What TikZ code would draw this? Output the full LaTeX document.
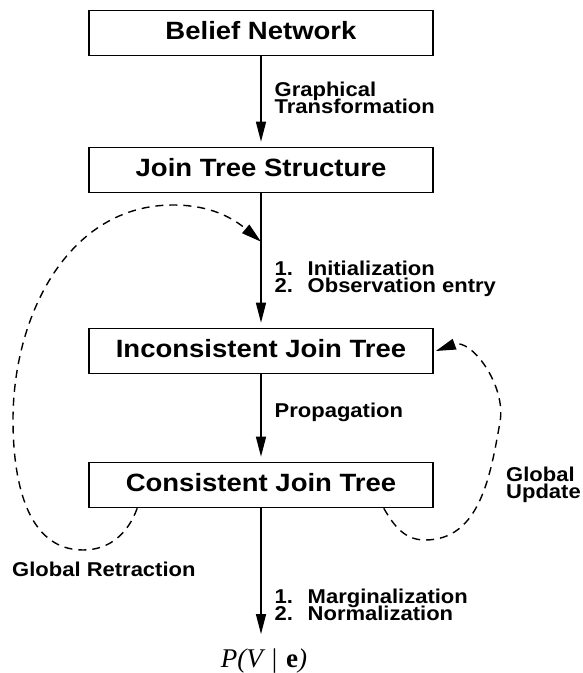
\documentclass[tikz,border=0pt]{standalone}
\usepackage{fontspec}
\usetikzlibrary{arrows.meta,calc}
\newfontfamily\diagbf[FakeStretch=1.1]{Liberation Sans Bold}
\newfontfamily\formula{Liberation Serif}
\newcommand\boxfont{\diagbf\fontsize{25}{27}\selectfont}
\newcommand\labfont{\diagbf\fontsize{20}{16.5}\selectfont\lineskiplimit=-20pt}
\tikzset{
  box/.style={draw, line width=1.6pt, fill=white, minimum width=344pt, minimum height=45pt,
              inner sep=0pt, text height=13pt, text depth=0pt, font=\boxfont},
  arr/.style={-{Triangle[length=20pt,width=10pt]}, line width=1.4pt, shorten >=5pt},
  back/.style={-{Triangle[length=20pt,width=11pt]}, line width=1.4pt, dash pattern=on 8pt off 6pt},
  lab/.style={font=\labfont, anchor=north west, align=left, inner sep=0pt},
  elab/.style={lab, xshift=13pt},
  res/.style={font=\formula\fontsize{27}{29}\selectfont, inner sep=0pt, anchor=base},
}
\newcommand\numd[2]{\makebox[33pt][l]{#1}#2}

\begin{document}
\begin{tikzpicture}[x=1pt,y=-1pt]
\useasboundingbox (0,0) rectangle (583,673);
\node[box] (bn) at (261,33) {Belief Network};
\node[box] (jts) at (261,170) {Join Tree Structure};
\node[box] (ijt) at (261,351) {Inconsistent Join Tree};
\node[box] (cjt) at (261,485) {Consistent Join Tree};
\node[res] (pve) at (264,667) {{\itshape P(V}\,\,|\,\,\textbf{e}{\itshape )}};
\coordinate (hit) at ($(jts.south)!0.36!(ijt.north)$);
% main chain
\draw[arr] (bn) -- node[elab, pos=0.28] {Graphical\\Transformation} (jts);
\draw[arr] (jts) -- node[elab, pos=0.5] {\numd{1.}{Initialization}\\\numd{2.}{Observation entry}} (ijt);
\draw[arr] (ijt) -- node[elab, pos=0.32] {Propagation} (cjt);
\draw[arr, shorten >=14pt] (cjt) -- node[elab, pos=0.575] {\numd{1.}{Marginalization}\\\numd{2.}{Normalization}} (cjt.south |- pve.north);
% loops back
\draw[back] ($(cjt.south west)+(49,0)$) to[out=-110,in=0] (83,550) to[out=180,in=-90] (13,420)
  to[out=90,in=180] (173,205) to[out=0,in=140] (hit);
\draw[back] ($(cjt.south east)+(-50,0)$) to[out=-60,in=180] (425,540) to[out=0,in=-100] (500,422)
  to[out=80,in=20] ($(ijt.east)+(2,0)$);
\node[lab] (gret) at (12,562) {Global Retraction};
\node[lab] (gupd) at (506,467) {Global\\Update};
\end{tikzpicture}
\end{document}
